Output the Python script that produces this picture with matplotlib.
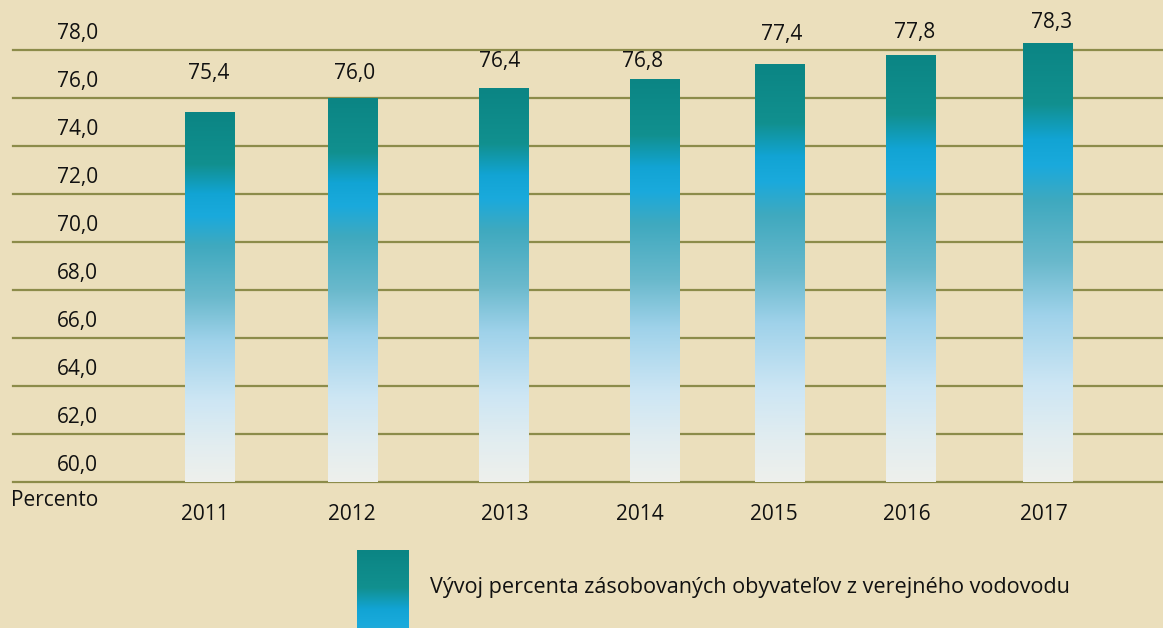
import numpy as np
import matplotlib
matplotlib.use("Agg")
import matplotlib.pyplot as plt
from matplotlib.colors import LinearSegmentedColormap

plt.rcParams['font.family'] = ['Open Sans', 'DejaVu Sans']

# data
years = ['2011', '2012', '2013', '2014', '2015', '2016', '2017']
values = [75.4, 76.0, 76.4, 76.8, 77.4, 77.8, 78.3]
value_labels = ['75,4', '76,0', '76,4', '76,8', '77,4', '77,8', '78,3']
y_ticks = [60, 62, 64, 66, 68, 70, 72, 74, 76, 78]
y_tick_labels = ['60,0', '62,0', '64,0', '66,0', '68,0', '70,0', '72,0', '74,0', '76,0', '78,0']
legend_text = 'Vývoj percenta zásobovaných obyvateľov z verejného vodovodu'

# layout (axes x units = pixels)
bar_x = [210, 353, 504, 655, 780, 911, 1048]
bar_w = 50
year_x = [205, 352, 505, 640, 774, 907, 1044]
label_x = [209, 355, 500, 643, 782, 915, 1052]
label_y = [77.04, 77.04, 77.5, 77.54, 78.63, 78.71, 79.13]

bg = '#ebdfbc'
grid_c = '#8c8c4a'

# teal -> cyan -> mixed -> pale -> white
water = LinearSegmentedColormap.from_list('water', [
    (0.00, '#0b8584'),
    (0.14, '#11908f'),
    (0.22, '#12a4d4'),
    (0.28, '#1aaadc'),
    (0.36, '#3fa9bf'),
    (0.50, '#6ab9cc'),
    (0.62, '#9fd2ea'),
    (0.78, '#cde6f4'),
    (0.90, '#e2edf0'),
    (1.00, '#eef0ec'),
])
grad = np.linspace(0, 1, 256).reshape(-1, 1)

fig = plt.figure(figsize=(11.63, 6.28), dpi=100)
fig.patch.set_facecolor(bg)
ax = fig.add_axes([13 / 1163, 146 / 628, 1150 / 1163, 482 / 628])
ax.set_facecolor(bg)
ax.set_xlim(13, 1163)
ax.set_ylim(60, 60 + 482 / 24)

for t in y_ticks:
    ax.axhline(t, color=grid_c, lw=1.6, zorder=1, clip_on=False)

bars = ax.bar(bar_x, [v - 60 for v in values], bottom=60, width=bar_w,
              color='none', edgecolor='none', zorder=2)
for b in bars:
    x0, y0 = b.get_x(), b.get_y()
    im = ax.imshow(grad, cmap=water, aspect='auto', zorder=3,
                   extent=(x0, x0 + b.get_width(), y0, y0 + b.get_height()),
                   interpolation='bilinear')
    im.set_clip_path(b)

for xl, yl, s in zip(label_x, label_y, value_labels):
    ax.text(xl, yl, s, ha='center', va='center', fontsize=15, color='#111111')

for yr, xl in zip(years, year_x):
    ax.text(xl, 60 - 33 / 24, yr, ha='center', va='center', fontsize=15,
            color='#111111', clip_on=False)

for t, s in zip(y_ticks, y_tick_labels):
    ax.text(98, t + 0.7, s, ha='right', va='center', fontsize=15, color='#111111')

ax.text(98, 60 - 18 / 24, 'Percento', ha='right', va='center', fontsize=15,
        color='#111111', clip_on=False)

ax.set_xticks([])
ax.set_yticks([])
for sp in ax.spines.values():
    sp.set_visible(False)

# legend swatch
lax = fig.add_axes([357 / 1163, 0, 52 / 1163, 78 / 628])
lax.imshow(grad[:75], cmap=water, vmin=0, vmax=1, aspect='auto',
           extent=(0, 1, 0, 1), interpolation='bilinear')
lax.set_axis_off()
fig.text(430 / 1163, 1 - 588 / 628, legend_text, ha='left', va='center',
         fontsize=15.6, color='#111111')

fig.savefig('out.png', dpi=100, facecolor=bg)
